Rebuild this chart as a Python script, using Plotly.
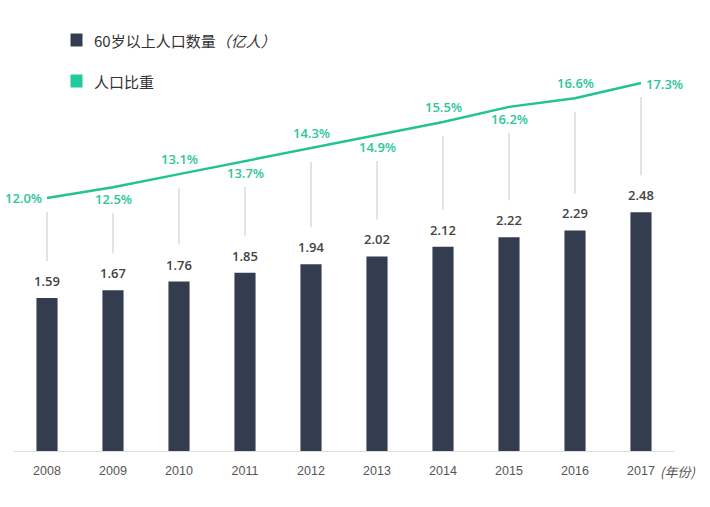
import plotly.graph_objects as go

# ---------------- data ----------------
years = ["2008", "2009", "2010", "2011", "2012", "2013", "2014", "2015", "2016", "2017"]
elderly_pop = [1.59, 1.67, 1.76, 1.85, 1.94, 2.02, 2.12, 2.22, 2.29, 2.48]   # 亿人
pop_share = [12.0, 12.5, 13.1, 13.7, 14.3, 14.9, 15.5, 16.2, 16.6, 17.3]     # %

# ---------------- styling ----------------
W, H = 710, 507
M_L, M_R, M_T, M_B = 14, 36, 20, 56
PLOT_W = W - M_L - M_R
PLOT_H = H - M_T - M_B

BAR_COLOR = "#333d4f"
GREEN = "#22c293"
GREEN_TXT = "#2cc69a"
VAL_TXT = "#444444"
CONN = "#d0d0d0"

Y1_MAX = 4.4756          # bars axis range [0, Y1_MAX]
Y2_MIN, Y2_MAX = 0.341, 20.203  # share axis range
PX_PER_Y1 = PLOT_H / Y1_MAX


def share_to_y1(p):
    return (p - Y2_MIN) / (Y2_MAX - Y2_MIN) * Y1_MAX


fig = go.Figure()

fig.add_trace(go.Bar(
    x=years, y=elderly_pop, name="60岁以上人口数量（亿人）",
    marker=dict(color=BAR_COLOR, line=dict(width=0)),
    width=0.32, yaxis="y", hoverinfo="x+y",
))

fig.add_trace(go.Scatter(
    x=years, y=pop_share, name="人口比重", mode="lines",
    line=dict(color=GREEN, width=2.5), yaxis="y2",
))

# connectors between line and bar value labels
n = len(years)
for i, (yr, v, p) in enumerate(zip(years, elderly_pop, pop_share)):
    below = (i % 2 == 1) and i != n - 1
    top_off = 26 if below else 14
    y_top = share_to_y1(p) - top_off / PX_PER_Y1
    y_bot = v + 37 / PX_PER_Y1
    fig.add_trace(go.Scatter(
        x=[yr, yr], y=[y_bot, y_top], mode="lines",
        line=dict(color=CONN, width=1.2), yaxis="y",
        showlegend=False, hoverinfo="skip",
    ))

annotations = []
num_font = dict(family="Open Sans, Lato, sans-serif", size=13, color=VAL_TXT, weight=600)
pct_font = dict(family="Open Sans, Lato, sans-serif", size=13, color=GREEN_TXT, weight=600)

for i, (yr, v, p) in enumerate(zip(years, elderly_pop, pop_share)):
    annotations.append(dict(
        x=i, y=v, xref="x", yref="y", text=f"{v:.2f}", showarrow=False,
        yanchor="middle", xanchor="center", yshift=17, font=num_font,
    ))
    if i == 0:
        kw = dict(xanchor="right", xshift=-3, yshift=0)
    elif i == n - 1:
        kw = dict(xanchor="left", xshift=3, yshift=-1)
    elif i % 2 == 1:
        kw = dict(xanchor="center", yshift=-12)
    else:
        kw = dict(xanchor="center", yshift=15)
    annotations.append(dict(
        x=i, y=p, xref="x", yref="y2", text=f"{p:.1f}%", showarrow=False,
        yanchor="middle", font=pct_font, **kw,
    ))

# "(年份)" axis unit
annotations.append(dict(
    x=n - 1, y=0, xref="x", yref="y", text="<i>(年份)</i>", showarrow=False,
    xanchor="left", yanchor="middle", xshift=17, yshift=-20,
    font=dict(family="Noto Sans CJK SC, sans-serif", size=13, color="#555555"),
))


def px_x(px):
    return (px - M_L) / PLOT_W


def px_y(py):
    return (H - M_B - py) / PLOT_H


legend_items = [("60岁以上人口数量<i>（亿人）</i>", BAR_COLOR, 40), ("人口比重", "#1fcb9a", 81)]
shapes = []
for text, col, cy in legend_items:
    shapes.append(dict(
        type="rect", xref="paper", yref="paper",
        x0=px_x(70.5), x1=px_x(82.5), y0=px_y(cy + 6.5), y1=px_y(cy - 6.5),
        fillcolor=col, line=dict(width=0),
    ))
    annotations.append(dict(
        x=px_x(92), y=px_y(cy), xref="paper", yref="paper", text=text,
        showarrow=False, xanchor="left", yanchor="middle",
        font=dict(family="Noto Sans CJK SC, sans-serif", size=15, color="#333333"),
    ))

fig.update_layout(
    width=W, height=H,
    margin=dict(l=M_L, r=M_R, t=M_T, b=M_B, pad=0),
    paper_bgcolor="white", plot_bgcolor="white",
    showlegend=False,
    bargap=0.6,
    xaxis=dict(
        type="category", range=[-0.5, n - 0.5],
        showline=True, linecolor="#dddddd", linewidth=1,
        showgrid=False, ticks="outside", ticklen=8, tickcolor="rgba(0,0,0,0)",
        zeroline=False,
        tickfont=dict(family="Liberation Sans, Arial, sans-serif", size=12.5, color="#555555"),
    ),
    yaxis=dict(range=[0, Y1_MAX], visible=False, showgrid=False, zeroline=False),
    yaxis2=dict(range=[Y2_MIN, Y2_MAX], overlaying="y", visible=False,
                showgrid=False, zeroline=False),
    annotations=annotations,
    shapes=shapes,
)

fig.write_html("out.html", config={"displayModeBar": False},
               post_script="document.body.style.margin='0';")
